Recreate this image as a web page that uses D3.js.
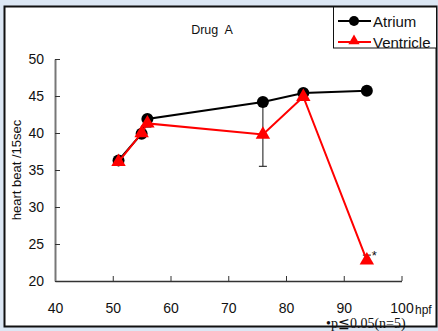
<!DOCTYPE html>
<html>
<head>
<meta charset="utf-8">
<script src="https://cdn.jsdelivr.net/npm/d3@7"></script>
<style>
  html, body { margin: 0; padding: 0; }
  body { width: 438px; height: 331px; overflow: hidden; background: #dce7f4; }
  svg { display: block; font-family: "Liberation Sans", Arial, sans-serif; }
</style>
</head>
<body>
<svg id="chart" width="438" height="331"></svg>
<script>
// hours post fertilization
const hpf = [51, 55, 56, 76, 83, 94];
const atrium = [36.3, 39.9, 41.9, 44.2, 45.4, 45.7];
const ventricle = [36.1, 40.0, 41.3, 39.8, 44.9, 22.8];
// lower ends of the visible error bars
const atriumErr = [null, null, 40.8, 35.5, null, 46.1];
const ventricleErr = [null, null, null, null, null, 23.5];
const xTicks = [40, 50, 60, 70, 80, 90, 100];
const yTicks = [20, 25, 30, 35, 40, 45, 50];

const svg = d3.select("#chart");

// white panel with black frame
svg.append("rect")
    .attr("x", 4.5).attr("y", 6.5)
    .attr("width", 432).attr("height", 320)
    .attr("fill", "#fff")
    .attr("stroke", "#111")
    .attr("stroke-width", 2);

const x = d3.scaleLinear().domain([40, 100]).range([55, 401.5]);
const y = d3.scaleLinear().domain([20, 50]).range([281, 59]);

// x axis, ticks pointing up
const xAxis = svg.append("g")
    .attr("transform", `translate(0,${y(20)})`)
    .call(d3.axisBottom(x).tickValues(xTicks).tickSizeInner(-5).tickSizeOuter(0).tickPadding(22));
xAxis.select(".domain").attr("stroke", "#333").attr("stroke-width", 1.5);
xAxis.selectAll(".tick line").attr("stroke", "#333");
xAxis.selectAll("text").attr("font-size", 14).attr("fill", "#111");

// y axis, ticks pointing right
const yAxis = svg.append("g")
    .attr("transform", `translate(${x(40)},0)`)
    .call(d3.axisLeft(y).tickValues(yTicks).tickSizeInner(-5).tickSizeOuter(0).tickPadding(11));
yAxis.select(".domain").attr("stroke", "#777").attr("stroke-width", 2);
yAxis.selectAll(".tick line").attr("stroke", "#333");
yAxis.selectAll("text").attr("font-size", 14).attr("fill", "#111");

// unit after the 100 label
svg.append("text")
    .attr("x", 415).attr("y", 314)
    .attr("font-size", 12).attr("fill", "#111")
    .text("hpf");

svg.append("text")
    .attr("transform", "translate(21,170) rotate(-90)")
    .attr("text-anchor", "middle")
    .attr("font-size", 13).attr("fill", "#111")
    .text("heart beat /15sec");

svg.append("text")
    .attr("x", 212).attr("y", 34)
    .attr("text-anchor", "middle")
    .attr("font-size", 12.5).attr("fill", "#111")
    .attr("xml:space", "preserve")
    .text("Drug  A");

// error bars
function errorBars(vals, errs, colour) {
    const pts = hpf.map((h, i) => ({ h, v: vals[i], e: errs[i] })).filter(d => d.e != null);
    const g = svg.append("g").attr("stroke", colour).attr("stroke-width", 1);
    g.selectAll("line.v").data(pts).enter().append("line")
        .attr("x1", d => x(d.h)).attr("x2", d => x(d.h))
        .attr("y1", d => y(d.v)).attr("y2", d => y(d.e));
    g.selectAll("line.c").data(pts).enter().append("line")
        .attr("x1", d => x(d.h) - 4).attr("x2", d => x(d.h) + 4)
        .attr("y1", d => y(d.e)).attr("y2", d => y(d.e));
}
errorBars(atrium, atriumErr, "#111");
errorBars(ventricle, ventricleErr, "#111");

const line = d3.line().x((d, i) => x(hpf[i])).y(d => y(d));

svg.append("path")
    .datum(atrium)
    .attr("d", line)
    .attr("fill", "none")
    .attr("stroke", "#000")
    .attr("stroke-width", 2);

svg.selectAll("circle.atrium")
    .data(atrium).enter().append("circle")
    .attr("class", "atrium")
    .attr("cx", (d, i) => x(hpf[i]))
    .attr("cy", d => y(d))
    .attr("r", 6)
    .attr("fill", "#000");

svg.append("path")
    .datum(ventricle)
    .attr("d", line)
    .attr("fill", "none")
    .attr("stroke", "#f00")
    .attr("stroke-width", 2);

const tri = d3.symbol().type(d3.symbolTriangle).size(90);
svg.selectAll("path.ventricle")
    .data(ventricle).enter().append("path")
    .attr("class", "ventricle")
    .attr("transform", (d, i) => `translate(${x(hpf[i])},${y(d)})`)
    .attr("d", tri)
    .attr("fill", "#f00");

// significance mark
svg.append("text")
    .attr("x", x(94) + 5).attr("y", y(23.5) + 5)
    .attr("font-size", 13).attr("fill", "#111")
    .text("*");

svg.append("text")
    .attr("x", 326).attr("y", 328)
    .attr("font-family", "'Liberation Serif', 'DejaVu Serif', serif")
    .attr("font-size", 14).attr("fill", "#111")
    .text("\u2022p\u22660.05(n=5)");

// legend
const legend = svg.append("g");
legend.append("rect")
    .attr("x", 333.5).attr("y", 7)
    .attr("width", 103).attr("height", 41)
    .attr("fill", "#fff")
    .attr("stroke", "#111")
    .attr("stroke-width", 1);

const legendItems = [
    { name: "Atrium", colour: "#000", shape: "circle" },
    { name: "Ventricle", colour: "#f00", shape: "triangle" }
];
const li = legend.selectAll("g.item")
    .data(legendItems).enter().append("g")
    .attr("class", "item")
    .attr("transform", (d, i) => `translate(338,${21 + i * 21})`);
li.append("line")
    .attr("x1", 0).attr("x2", 33)
    .attr("stroke", d => d.colour)
    .attr("stroke-width", 2);
li.filter(d => d.shape === "circle").append("circle")
    .attr("cx", 16).attr("r", 5).attr("fill", d => d.colour);
li.filter(d => d.shape === "triangle").append("path")
    .attr("transform", "translate(16,-1)")
    .attr("d", d3.symbol().type(d3.symbolTriangle).size(55))
    .attr("fill", d => d.colour);
li.append("text")
    .attr("x", 35).attr("y", 6)
    .attr("font-size", 15).attr("fill", "#111")
    .text(d => d.name);
</script>
</body>
</html>
